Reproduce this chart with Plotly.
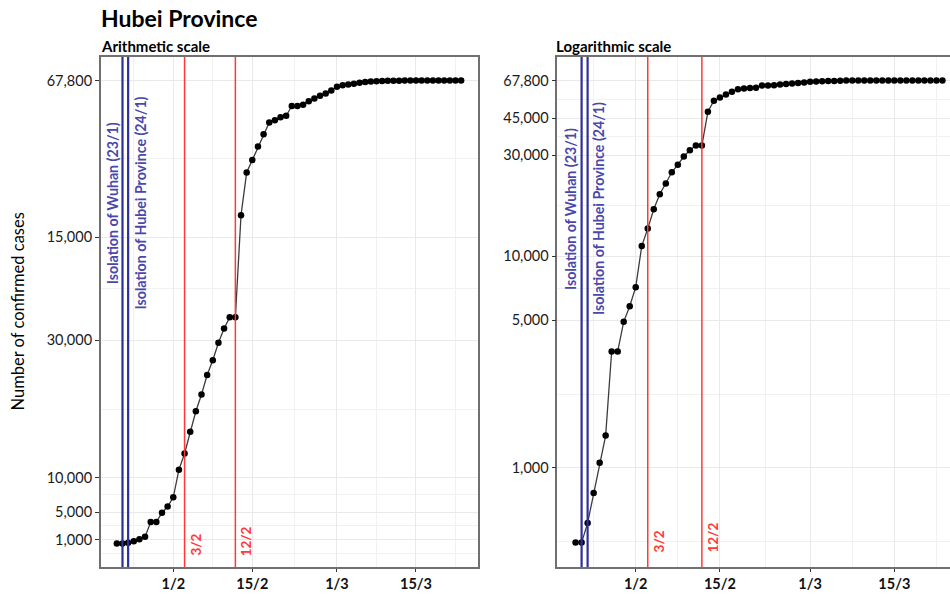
import math
import pandas as pd
import plotly.graph_objects as go

# ---------------- data ----------------
dates = [
    "2020-01-22", "2020-01-23", "2020-01-24", "2020-01-25", "2020-01-26", "2020-01-27",
    "2020-01-28", "2020-01-29", "2020-01-30", "2020-01-31", "2020-02-01", "2020-02-02",
    "2020-02-03", "2020-02-04", "2020-02-05", "2020-02-06", "2020-02-07", "2020-02-08",
    "2020-02-09", "2020-02-10", "2020-02-11", "2020-02-12", "2020-02-13", "2020-02-14",
    "2020-02-15", "2020-02-16", "2020-02-17", "2020-02-18", "2020-02-19", "2020-02-20",
    "2020-02-21", "2020-02-22", "2020-02-23", "2020-02-24", "2020-02-25", "2020-02-26",
    "2020-02-27", "2020-02-28", "2020-02-29", "2020-03-01", "2020-03-02", "2020-03-03",
    "2020-03-04", "2020-03-05", "2020-03-06", "2020-03-07", "2020-03-08", "2020-03-09",
    "2020-03-10", "2020-03-11", "2020-03-12", "2020-03-13", "2020-03-14", "2020-03-15",
    "2020-03-16", "2020-03-17", "2020-03-18", "2020-03-19", "2020-03-20", "2020-03-21",
    "2020-03-22", "2020-03-23",
]
confirmed = [
    444, 444, 549, 761, 1058, 1423, 3554, 3554, 4903, 5806, 7153, 11177,
    13522, 16678, 19665, 22112, 24953, 27100, 29631, 31728, 33366, 33366,
    48206, 54406, 56249, 58182, 59989, 61682, 62031, 62442, 62662, 64084,
    64084, 64287, 64786, 65187, 65596, 65914, 66337, 66907, 67103, 67217,
    67332, 67466, 67592, 67666, 67707, 67743, 67760, 67773, 67781, 67786,
    67790, 67794, 67798, 67799, 67800, 67800, 67800, 67800, 67800, 67800,
]

x_tick_dates = ["2020-02-01", "2020-02-15", "2020-03-01", "2020-03-15"]
x_tick_text = ["1/2", "15/2", "1/3", "15/3"]

y_tick_vals = [1000, 5000, 10000, 30000, 45000, 67800]
y_tick_text_arith = ["1,000", "5,000", "10,000", "30,000", "15,000", "67,800"]
y_tick_text_log = ["1,000", "5,000", "10,000", "30,000", "45,000", "67,800"]

isolation_dates = ["2020-01-23", "2020-01-24"]
isolation_labels = ["Isolation of Wuhan (23/1)", "Isolation of Hubei Province (24/1)"]
measure_dates = ["2020-02-03", "2020-02-12"]
measure_labels = ["3/2", "12/2"]

# ---------------- styling helpers ----------------
FONT = "Lato"
W, H = 950, 596
T, B = 57.3, 29.3
BLUE_LINE = "#2f2f9c"
BLUE_TEXT = "#4848ad"
RED = "#ff3838"
GRID = "#e9e9e9"
GRID_MINOR = "#f1f1f1"
FRAME = "#707070"

def fx(px):
    return px / W

plot_h = H - T - B
def fy(py):
    return (H - B - py) / plot_h

ref = pd.Timestamp("2020-02-01")
def day_off(d):
    return (ref + pd.Timedelta(days=d)).strftime("%Y-%m-%d %H:%M:%S")

# minor gridlines (midpoints between breaks, ggplot style)
xt = [pd.Timestamp(d) for d in x_tick_dates]
x_minor = [xt[0] - (xt[1] - xt[0]) / 2]
for a, b in zip(xt[:-1], xt[1:]):
    x_minor.append(a + (b - a) / 2)
x_minor.append(xt[-1] + (xt[-1] - xt[-2]) / 2)
x_minor = [m.strftime("%Y-%m-%d %H:%M:%S") for m in x_minor]

y_minor_lin = [y_tick_vals[0] - (y_tick_vals[1] - y_tick_vals[0]) / 2]
for a, b in zip(y_tick_vals[:-1], y_tick_vals[1:]):
    y_minor_lin.append((a + b) / 2)

lg = [math.log10(v) for v in y_tick_vals]
y_minor_log = [10 ** (lg[0] - (lg[1] - lg[0]) / 2)]
for a, b in zip(lg[:-1], lg[1:]):
    y_minor_log.append(10 ** ((a + b) / 2))

fig = go.Figure()

for xa, ya in (("x", "y"), ("x2", "y2")):
    fig.add_trace(go.Scatter(
        x=dates, y=confirmed, xaxis=xa, yaxis=ya, mode="lines+markers",
        line=dict(color="#3c3c3c", width=1.3),
        marker=dict(color="black", size=6.5),
        showlegend=False, hoverinfo="skip",
    ))

common_x = dict(
    type="date", tickmode="array", tickvals=x_tick_dates, ticktext=x_tick_text,
    showgrid=True, gridcolor=GRID, gridwidth=1.2, zeroline=False,
    showline=True, linecolor=FRAME, linewidth=1.5,
    ticks="outside", ticklen=3, tickcolor="#333333", tickwidth=1,
    tickfont=dict(family=FONT, size=14.5, color="#111111", weight="bold"),
    minor=dict(tickmode="array", tickvals=x_minor, showgrid=True, gridcolor=GRID_MINOR,
               gridwidth=0.9, ticklen=0),
)
common_y = dict(
    tickmode="array", tickvals=y_tick_vals,
    showgrid=True, gridcolor=GRID, gridwidth=1.2, zeroline=False,
    showline=True, linecolor=FRAME, linewidth=1.5,
    ticks="outside", ticklen=4, tickcolor="#333333", tickwidth=1,
    tickfont=dict(family=FONT, size=14.5, color="#1a1a1a"),
)

fig.update_layout(
    width=W, height=H,
    margin=dict(l=0, r=0, t=T, b=B),
    paper_bgcolor="white", plot_bgcolor="white",
    xaxis=dict(common_x, domain=[fx(100.7), fx(478.3)], anchor="y", mirror=True,
               range=[day_off(-12.86), day_off(54.04)]),
    yaxis=dict(common_y, domain=[0, 1], anchor="x", mirror=True,
               ticktext=y_tick_text_arith, range=[-2990, 71220],
               minor=dict(tickmode="array", tickvals=y_minor_lin, showgrid=True,
                          gridcolor=GRID_MINOR, gridwidth=0.9, ticklen=0)),
    xaxis2=dict(common_x, domain=[fx(557.3), 1.0], anchor="y2", mirror=True,
                range=[day_off(-13.04), day_off(52.26)]),
    yaxis2=dict(common_y, domain=[0, 1], anchor="x2", type="log", mirror=False,
                ticktext=y_tick_text_log, range=[2.532, 4.942],
                minor=dict(tickmode="array", tickvals=y_minor_log, showgrid=True,
                           gridcolor=GRID_MINOR, gridwidth=0.9, ticklen=0)),
)

shapes = []
annotations = []
panels = [
    ("x", "y", 50000, -10.0, 12.6, 9.0),
    ("x2", "y2", math.log10(16740), -10.5, 11.5, 12.3),
]
for xa, ya, ytext, sh_w, sh_h, red_shift in panels:
    for d in isolation_dates:
        shapes.append(dict(type="line", xref=xa, yref=ya + " domain", x0=d, x1=d, y0=0, y1=1,
                           line=dict(color=BLUE_LINE, width=2.2), layer="above"))
    for d in measure_dates:
        shapes.append(dict(type="line", xref=xa, yref=ya + " domain", x0=d, x1=d, y0=0, y1=1,
                           line=dict(color=RED, width=1.5), layer="above"))
    for d, lab, sh in zip(isolation_dates, isolation_labels, (sh_w, sh_h)):
        annotations.append(dict(
            xref=xa, yref=ya, x=d, y=ytext, text=lab, textangle=-90, showarrow=False,
            xanchor="center", yanchor="middle", xshift=sh,
            font=dict(family=FONT, size=14.2, color=BLUE_TEXT, weight="bold")))
    for d, lab in zip(measure_dates, measure_labels):
        annotations.append(dict(
            xref=xa, yref=ya + " domain", x=d, y=0, text=lab, textangle=-90, showarrow=False,
            xanchor="center", yanchor="bottom", xshift=11, yshift=red_shift,
            font=dict(family=FONT, size=13.5, color=RED, weight="bold")))

annotations += [
    dict(xref="paper", yref="paper", x=fx(99), y=fy(18), text="Hubei Province",
         showarrow=False, xanchor="left", yanchor="middle",
         font=dict(family=FONT, size=23, color="black", weight="bold")),
    dict(xref="paper", yref="paper", x=fx(99), y=fy(46), text="Arithmetic scale",
         showarrow=False, xanchor="left", yanchor="middle",
         font=dict(family=FONT, size=15, color="black", weight="bold")),
    dict(xref="paper", yref="paper", x=fx(554), y=fy(46), text="Logarithmic scale",
         showarrow=False, xanchor="left", yanchor="middle",
         font=dict(family=FONT, size=15, color="black", weight="bold")),
    dict(xref="paper", yref="paper", x=fx(18), y=fy(311.5), text="Number of confirmed cases",
         showarrow=False, xanchor="center", yanchor="middle", textangle=-90,
         font=dict(family=FONT, size=16.5, color="black")),
]

fig.update_layout(shapes=shapes, annotations=annotations)
fig.write_html(
    "out.html",
    config={"displayModeBar": False},
    post_script="document.body.style.margin='0px';document.body.style.overflow='hidden';",
)
